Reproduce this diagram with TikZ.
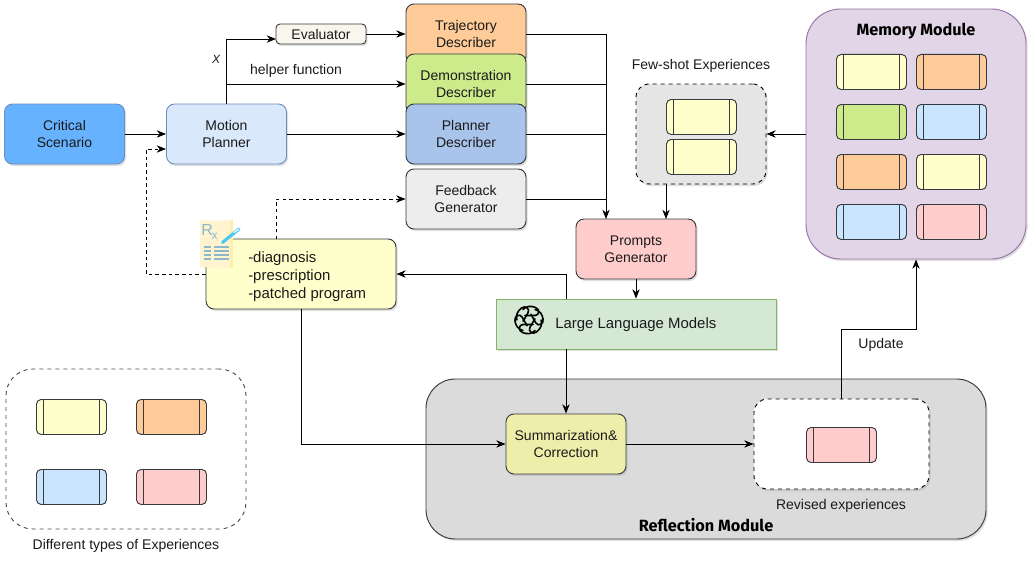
\documentclass[tikz,border=0pt]{standalone}
\usepackage{fontspec}
\setmainfont{Liberation Sans}
\newfontfamily\modulefont{Fira Sans}
\usetikzlibrary{arrows.meta, positioning, calc, shadows}
\definecolor{edgegray}{HTML}{36393D}
\definecolor{txtblack}{HTML}{1A1A1A}
\definecolor{expyellow}{HTML}{FFFFCC}
\definecolor{exporange}{HTML}{FFCC99}
\definecolor{expgreen}{HTML}{CDEB8B}
\definecolor{expblue}{HTML}{CCE5FF}
\definecolor{exppink}{HTML}{FFCCCC}
\definecolor{scenblue}{HTML}{66B2FF}
\definecolor{planblue}{HTML}{DAE8FC}
\definecolor{planedge}{HTML}{6C8EBF}
\definecolor{descblue}{HTML}{A9C4EB}
\definecolor{rxblue}{HTML}{8DB8C8}
\definecolor{rxpaper}{HTML}{FFF4CF}
\definecolor{rxstrip}{HTML}{FFEDAE}
\definecolor{penblue}{HTML}{4FC8F0}
\definecolor{memorypurple}{HTML}{E1D5E7}
\definecolor{memoryedge}{HTML}{9673A6}
\definecolor{evalcream}{HTML}{F9F7ED}
\definecolor{llmgreen}{HTML}{D5E8D4}
\definecolor{llmedge}{HTML}{82B366}
\definecolor{sumyellow}{HTML}{EEEEAA}
\tikzset{
  flow/.style={-{Stealth[length=7pt,width=5.5pt]}, line width=0.6pt, black},
  dashflow/.style={flow, dash pattern=on 2.6pt off 2.4pt},
  plainline/.style={line width=0.6pt, black},
  softshadow/.style={drop shadow={opacity=0.25, shadow xshift=1.2pt, shadow yshift=-1.5pt}},
  block/.style={draw=edgegray, line width=0.7pt, rounded corners=6pt, align=center, text=txtblack,
    minimum width=90pt, minimum height=45pt, inner sep=0pt, softshadow,
    font=\fontsize{10.5}{12.75}\selectfont},
  expbox/.style={draw=edgegray, line width=0.7pt, rounded corners=3.5pt, fill=#1,
    minimum width=52.5pt, minimum height=26.25pt, inner sep=0pt,
    path picture={
      \draw[edgegray, line width=0.7pt]
        ([xshift=5.25pt]path picture bounding box.north west) -- ([xshift=5.25pt]path picture bounding box.south west)
        ([xshift=-5.25pt]path picture bounding box.north east) -- ([xshift=-5.25pt]path picture bounding box.south east);
    }},
  caption/.style={text=txtblack, inner sep=0pt, font=\fontsize{10.5}{12.75}\selectfont},
  moduletitle/.style={text=black, inner sep=0pt, font=\modulefont\fontsize{12.2}{13}\selectfont\bfseries},
  container/.style={draw=edgegray, line width=0.7pt, inner sep=0pt}
}
\begin{document}
\begin{tikzpicture}[x=0.75pt, y=-0.75pt]
  \useasboundingbox (0,0) rectangle (1034,560);

  % Containers
  \node[container, draw=black!70, dashed, fill=white, rounded corners=20pt, minimum width=180pt, minimum height=120pt] (typesbox) at (126,449) {};
  \node[container, fill=black!14, rounded corners=22pt, minimum width=420pt, minimum height=120pt, softshadow] (reflection) at (706,459) {};
  \node[container, draw=black, dashed, fill=white, rounded corners=10pt, minimum width=131.25pt, minimum height=67.5pt, softshadow] (revisedbox) at (841.5,444) {};
  \node[container, draw=black, dashed, fill=black!10, rounded corners=10pt, minimum width=97.5pt, minimum height=75pt, softshadow] (fewshot) at (701,134) {};
  \node[container, draw=memoryedge, fill=memorypurple, rounded corners=26pt, minimum width=165pt, minimum height=187.5pt, softshadow] (memory) at (916,134) {};

  % Describers, drawn back to front
  \node[block, fill=exporange] (trajectory) at (466,34) {Trajectory\\Describer};
  \node[block, fill=expgreen] (demonstration) at (466,84) {Demonstration\\Describer};
  \node[block, fill=descblue] (plannerdesc) at (466,134) {Planner\\Describer};
  \node[block, fill=black!7] (feedback) at (466,199) {Feedback\\Generator};

  % Main blocks
  \node[block, draw=planedge, fill=scenblue] (scenario) at (64.5,134) {Critical\\Scenario};
  \node[block, draw=planedge, fill=planblue] (planner) at (226.5,134) {Motion\\Planner};
  \node[block, fill=evalcream, minimum width=67.5pt, minimum height=15pt, rounded corners=3pt] (evaluator) at (321,34) {Evaluator};
  \node[block, fill=exppink] (prompts) at (636,249) {Prompts\\Generator};
  \node[block, fill=expyellow, minimum width=142.5pt, minimum height=52.5pt] (rxbox) at (301,274) {};
  \node[caption, anchor=west, align=left, font=\fontsize{11.2}{13.5}\selectfont] (rxtext) at (248,277) {-diagnosis\\-prescription\\-patched program};
  \node[draw=llmedge, line width=0.7pt, fill=llmgreen, minimum width=210pt, minimum height=37.5pt, inner sep=0pt, softshadow] (llm) at (636,324) {};
  \node[caption, anchor=west, font=\fontsize{11.2}{13}\selectfont] (llmtext) at (555,325) {Large Language Models};
  \node[block, fill=sumyellow] (summary) at (566,444) {Summarization\&\\Correction};

  % Experience cards
  \foreach \px/\py/\col/\idx in {836/54/expyellow/a, 916/54/exporange/b, 836/104/expgreen/c, 916/104/expblue/d,
                                 836/154/exporange/e, 916/154/expyellow/f, 836/204/expblue/g, 916/204/exppink/h,
                                 666/99/expyellow/i, 666/139/expyellow/j, 806/427/exppink/k,
                                 36/399/expyellow/l, 136/399/exporange/m, 36/469/expblue/n, 136/469/exppink/o}
    \node[expbox=\col, anchor=north west] (card\idx) at (\px,\py) {};

  % Captions
  \node[moduletitle] (memorytitle) at (916,31) {Memory Module};
  \node[moduletitle] (reflecttitle) at (706,525) {Reflection Module};
  \node[caption] (fewtitle) at (701,65.5) {Few-shot Experiences};
  \node[caption] (revisedtitle) at (841,505.5) {Revised experiences};
  \node[caption] (typestitle) at (126,545.5) {Different types of Experiences};
  \node[caption] (updatetitle) at (881,344.5) {Update};
  \node[caption] (helpertitle) at (296,70.5) {helper function};
  \node[caption, font=\fontsize{9}{11}\selectfont\itshape] (xtitle) at (216,59) {X};

  % Free ends
  \coordinate (busin) at (606,219);
  \coordinate (evalin) at (276,39);
  \coordinate (fewout) at (666,184);
  \coordinate (promptin) at (666,219);
  \coordinate (llmtop) at (566,299);
  \coordinate (llmbottom) at (566,349);
  \coordinate (updatebend) at (916,329);
  \coordinate (rxleft) at (146,274);
  \coordinate (plannerin) at (166,149);
  \coordinate (rxtop) at (276,239);

  % Connectors
  \draw[flow] (scenario.east) -- (planner.west);
  \draw[flow] (planner.east) -- (plannerdesc.west);
  \draw[flow] (planner.north) |- (evalin);
  \draw[flow] (planner.north |- demonstration.west) -- (demonstration.west);
  \draw[flow] (evaluator.east) -- (trajectory.west);
  \draw[flow] (trajectory.east) -| (busin);
  \draw[plainline] (demonstration.east) -- (demonstration.east -| busin);
  \draw[plainline] (plannerdesc.east) -- (plannerdesc.east -| busin);
  \draw[plainline] (feedback.east) -- (feedback.east -| busin);
  \draw[flow] (memory.west) -- (fewshot.east);
  \draw[flow] (fewout) -- (promptin);
  \draw[flow] (prompts.south) -- (prompts.south |- llm.north);
  \draw[flow] (llmtop) |- (rxbox.east);
  \draw[flow] (llmbottom) -- (summary.north);
  \draw[flow] (rxbox.south) |- (summary.west);
  \draw[flow] (summary.east) -- (revisedbox.west);
  \draw[flow] (revisedbox.north) |- (updatebend) -- (memory.south -| updatebend);
  \draw[dashflow] (rxbox.west) -- (rxleft) |- (plannerin);
  \draw[dashflow] (rxtop) |- (feedback.west);

  % Prescription icon
  \fill[rxpaper] plot[smooth, samples=17, domain=200:233] (\x,{220.5+1*sin((\x-200)*110)})
    -- plot[smooth, samples=17, domain=233:200] (\x,{267.5+1*sin((\x-200)*110)}) -- cycle;
  \fill[rxstrip] (229.5,220) rectangle (233,268);
  \node[text=rxblue, inner sep=0pt, font=\fontsize{12}{13}\selectfont] (rxmark) at (209.5,232) {R\kern-1pt\raisebox{-3pt}{\fontsize{9}{10}\selectfont x}};
  \foreach \py in {247,251,255,259} {
    \draw[rxblue, line width=1pt] (204,\py) -- (211,\py);
    \draw[rxblue, line width=1pt] (214,\py) -- (229,\py);
  }
  \draw[penblue, line width=2.4pt, line cap=round] (222.5,242.5) -- (239,229);
  \draw[white, line width=0.8pt, line cap=round] (234,232.5) -- (239,229);

  % Model logo
  \coordinate (logo) at (529,320);
  \foreach \ang in {0,60,...,300}
    \draw[black, line width=1.2pt, line cap=round, rotate around={\ang:(logo)}]
      ($(logo)+(-4,-4.5)$) -- ($(logo)+(6,-4.5)$)
      .. controls ($(logo)+(10.5,-4.5)$) and ($(logo)+(11,-11)$) .. ($(logo)+(6.5,-12.5)$)
      .. controls ($(logo)+(2,-14.5)$) and ($(logo)+(-3,-14)$) .. ($(logo)+(-6,-10.5)$);
\end{tikzpicture}
\end{document}
